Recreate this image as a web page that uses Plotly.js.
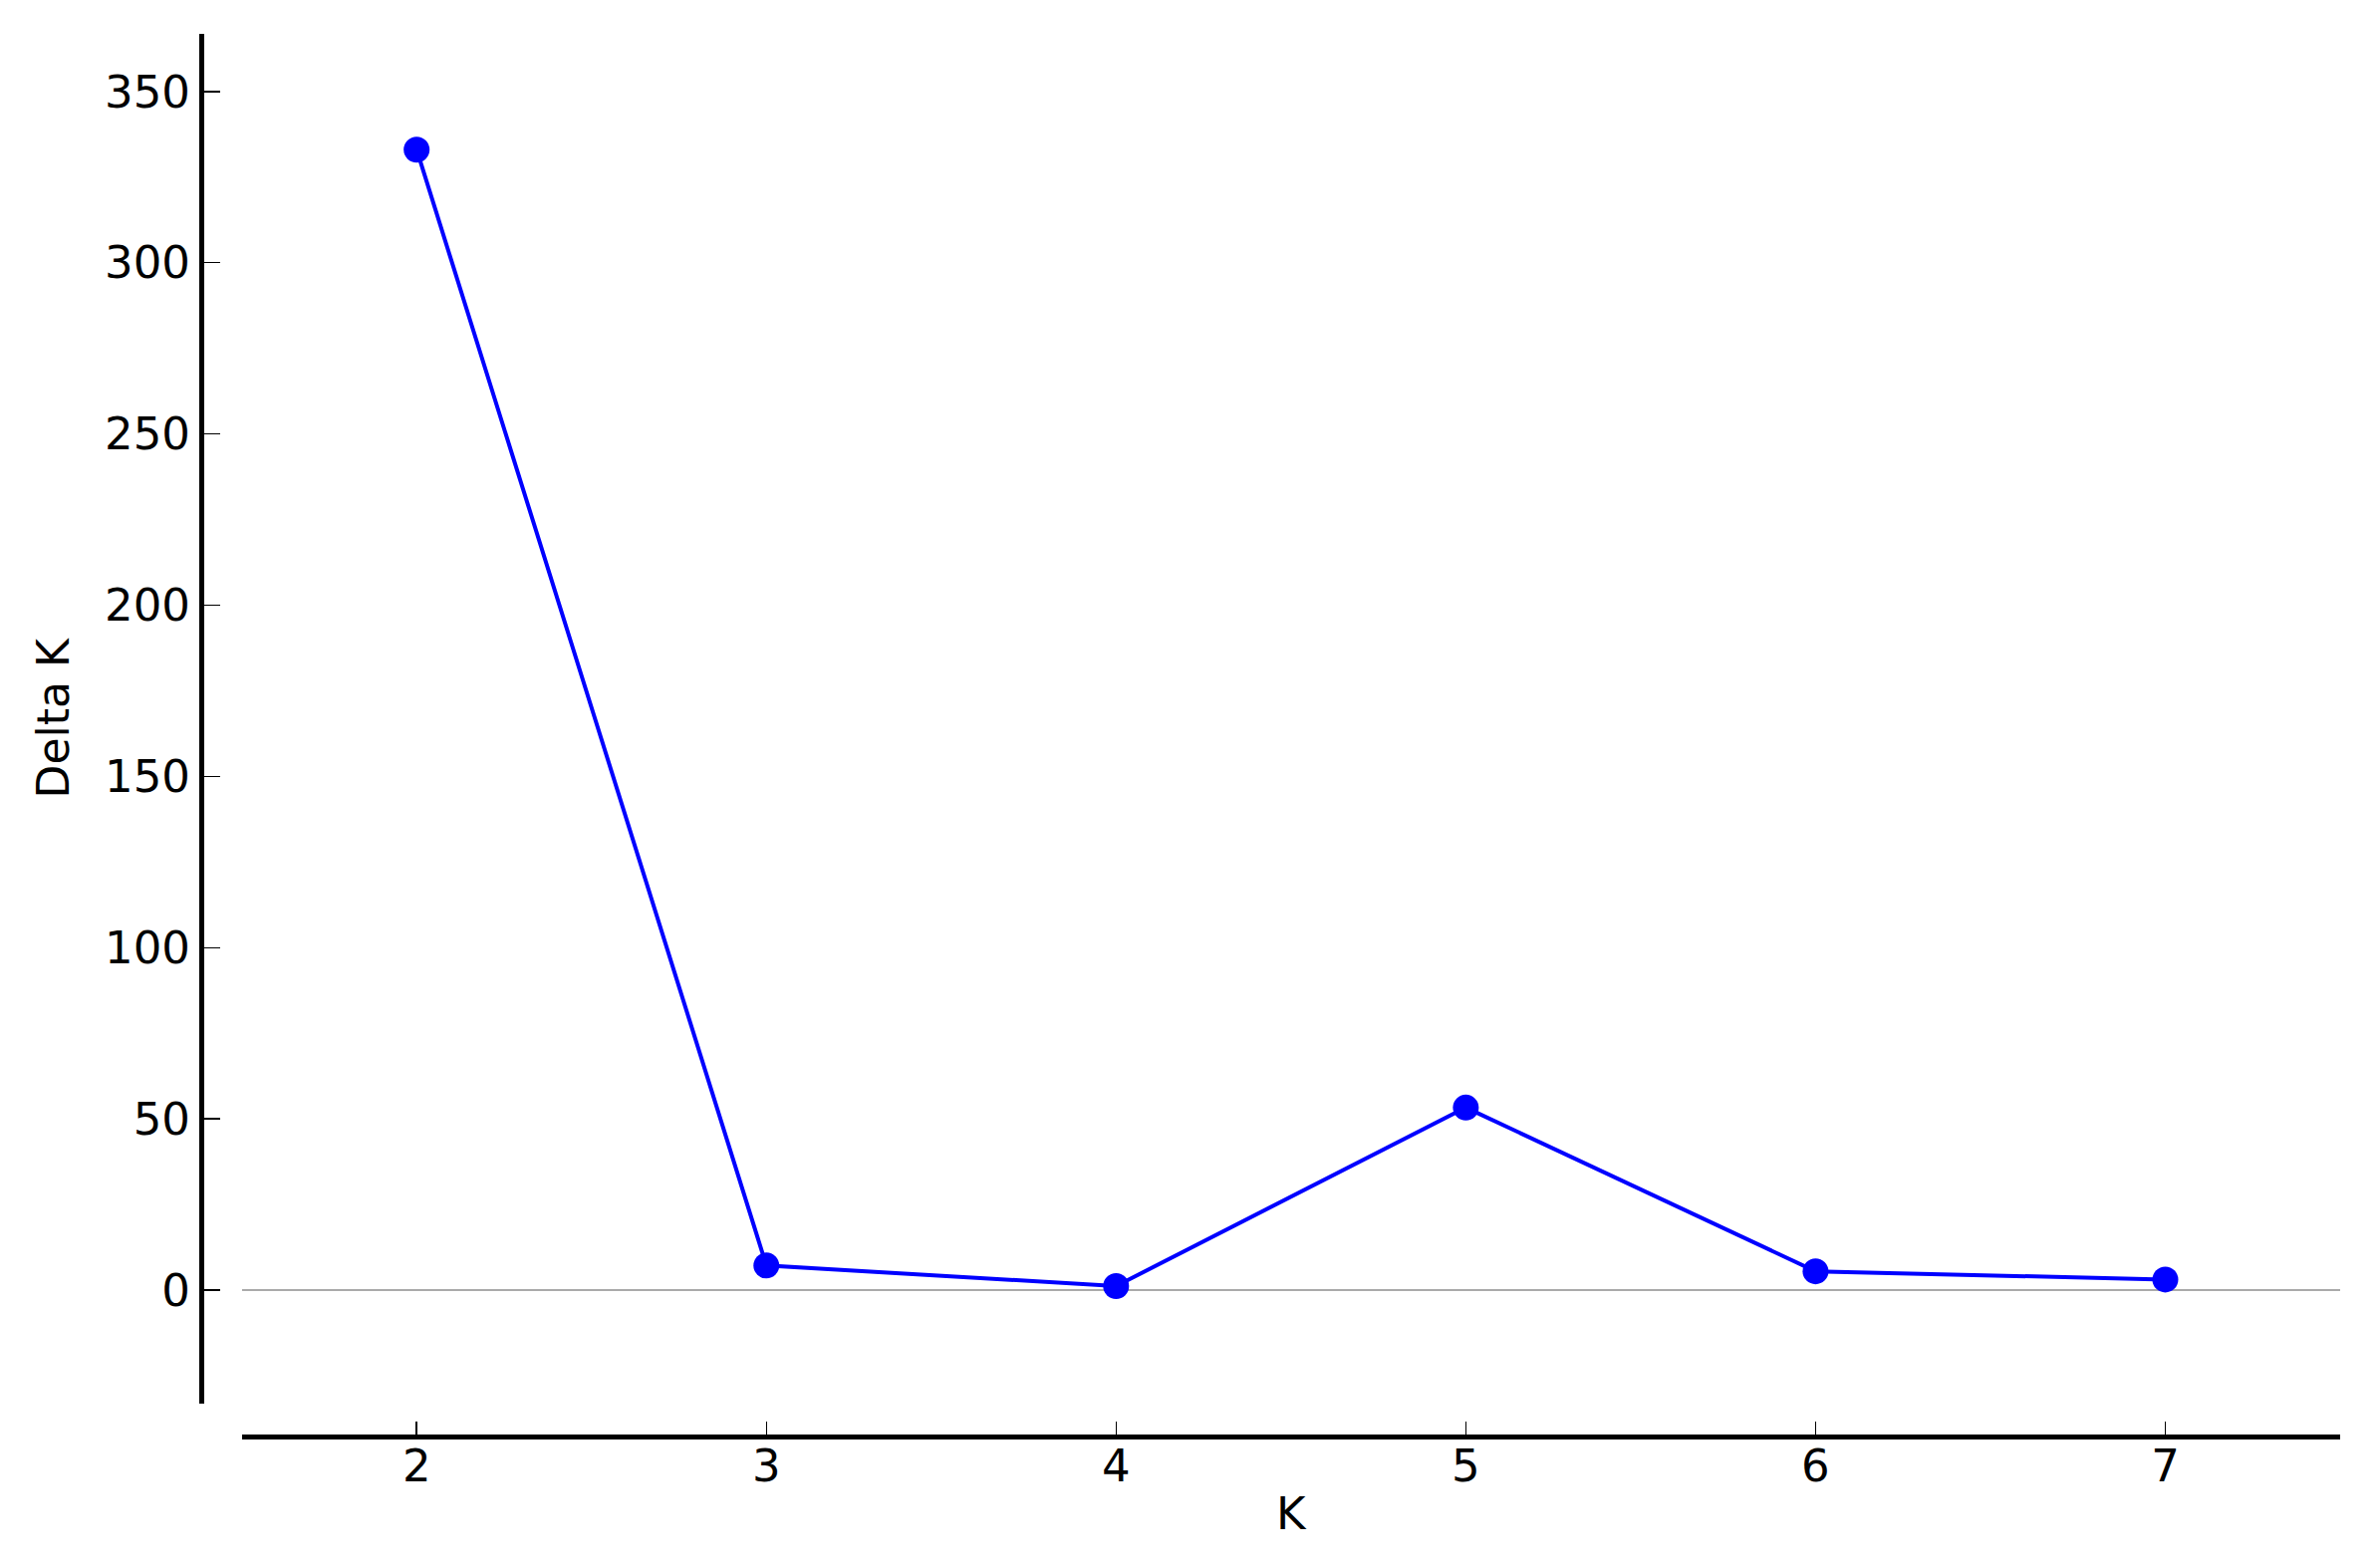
<!DOCTYPE html>
<html>
<head>
<meta charset="utf-8">
<script src="https://cdn.plot.ly/plotly-3.0.1.min.js"></script>
<style>html,body{margin:0;padding:0;background:#fff;}#chart{width:2389px;height:1574px;}</style>
</head>
<body>
<div id="chart"></div>
<script>
const kValues = [2, 3, 4, 5, 6, 7];
const deltaK = [333, 7.2, 1.2, 53.3, 5.5, 3.1];
const xTickVals = [2, 3, 4, 5, 6, 7];
const yTickVals = [0, 50, 100, 150, 200, 250, 300, 350];

const trace = {
  x: kValues,
  y: deltaK,
  type: 'scatter',
  mode: 'lines+markers',
  line: {color: '#0000ff', width: 4},
  marker: {color: '#0000ff', size: 26},
  hoverinfo: 'skip'
};

const layout = {
  width: 2389,
  height: 1574,
  margin: {l: 202, r: 40, t: 34, b: 132},
  paper_bgcolor: '#ffffff',
  plot_bgcolor: '#ffffff',
  showlegend: false,
  font: {family: 'DejaVu Sans', color: '#000'},
  xaxis: {
    domain: [0.01895, 1],
    anchor: 'free',
    position: 0,
    range: [1.5, 7.5],
    tickvals: xTickVals,
    ticktext: xTickVals.map(String),
    ticks: 'inside',
    ticklen: 13,
    tickwidth: 1.5,
    tickcolor: '#000',
    ticklabelstandoff: -12,
    showline: true,
    linecolor: '#000',
    linewidth: 5,
    showgrid: false,
    zeroline: false,
    tickfont: {family: 'DejaVu Sans', size: 45, color: '#000'},
    title: {text: 'K', font: {family: 'DejaVu Sans', size: 45, color: '#000'}, standoff: 6},
    automargin: false
  },
  yaxis: {
    domain: [0.02377, 1],
    anchor: 'free',
    position: 0,
    range: [-33, 366.8],
    tickvals: yTickVals,
    ticktext: yTickVals.map(String),
    ticks: 'inside',
    ticklen: 16,
    tickwidth: 1.5,
    tickcolor: '#000',
    showline: true,
    linecolor: '#000',
    linewidth: 5,
    showgrid: false,
    zeroline: true,
    zerolinecolor: '#aaaaaa',
    zerolinewidth: 2,
    tickfont: {family: 'DejaVu Sans', size: 45, color: '#000'},
    title: {text: 'Delta K', font: {family: 'DejaVu Sans', size: 44, color: '#000'}, standoff: 20},
    automargin: false
  }
};

Plotly.newPlot('chart', [trace], layout, {displayModeBar: false, staticPlot: true});
</script>
</body>
</html>
